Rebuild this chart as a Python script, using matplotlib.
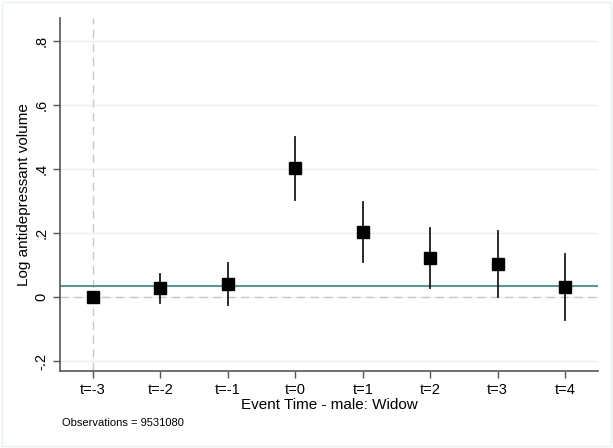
import matplotlib
matplotlib.use('Agg')
from matplotlib import pyplot as plt
from matplotlib.patches import Rectangle

plt.rcParams['font.family'] = ['Liberation Sans', 'DejaVu Sans']

labels = ['t=-3', 't=-2', 't=-1', 't=0', 't=1', 't=2', 't=3', 't=4']
coef = [0.0, 0.029, 0.041, 0.404, 0.204, 0.122, 0.104, 0.032]
ci_low = [0.0, -0.018, -0.023, 0.305, 0.110, 0.029, 0.0, -0.070]
ci_high = [0.0, 0.073, 0.106, 0.502, 0.297, 0.216, 0.208, 0.136]
mean_line = 0.034
yticks = [-0.2, 0, 0.2, 0.4, 0.6, 0.8]
ytick_labels = ['-.2', '0', '.2', '.4', '.6', '.8']
n_obs = 9531080

fig = plt.figure(figsize=(6.13, 4.48), dpi=100)
ax = fig.add_axes([0.0979, 0.172, 0.8776, 0.788])

x = list(range(len(labels)))
grid_col = '#eaf1f3'
for yt in yticks:
  ax.axhline(yt, color=grid_col, lw=1.0, zorder=0)

ax.axhline(0, color='#c8c8c8', lw=1.0, ls=(0, (6, 4)), zorder=1)
ax.axvline(0, color='#c8c8c8', lw=1.0, ls=(0, (6, 4)), zorder=1)
ax.axhline(mean_line, color='#5f9590', lw=1.5, zorder=2)

for i in x:
  if ci_high[i] != ci_low[i]:
    ax.plot([i, i], [ci_low[i], ci_high[i]], color='#1a1a1a', lw=1.3, zorder=3)
ax.plot(x, coef, ls='none', marker='s', ms=9, color='black', zorder=4)

ax.set_xlim(-0.49, 7.49)
ax.set_ylim(-0.23, 0.873)
ax.set_xticks(x)
ax.set_xticklabels(labels, fontsize=10.5)
ax.set_yticks(yticks)
ax.set_yticklabels(ytick_labels, fontsize=10.5, rotation=90, va='center')

for side in ['top', 'right']:
  ax.spines[side].set_visible(False)
for side in ['left', 'bottom']:
  ax.spines[side].set_color('#555555')
  ax.spines[side].set_linewidth(1.2)
ax.tick_params(colors='#555555', labelcolor='black', length=5, width=1.0)

ax.set_xlabel('Event Time - male: Widow', fontsize=11, labelpad=1)
ax.set_ylabel('Log antidepressant volume', fontsize=11, labelpad=2)

fig.text(62 / 613, 1 - 423 / 448, f'Observations = {n_obs}', fontsize=8, va='center')

fig.patches.append(Rectangle((0.003, 0.005), 0.994, 0.99, transform=fig.transFigure,
                             fill=False, edgecolor='#eaf1f3', lw=1.0))

fig.savefig('out.png', dpi=100)
